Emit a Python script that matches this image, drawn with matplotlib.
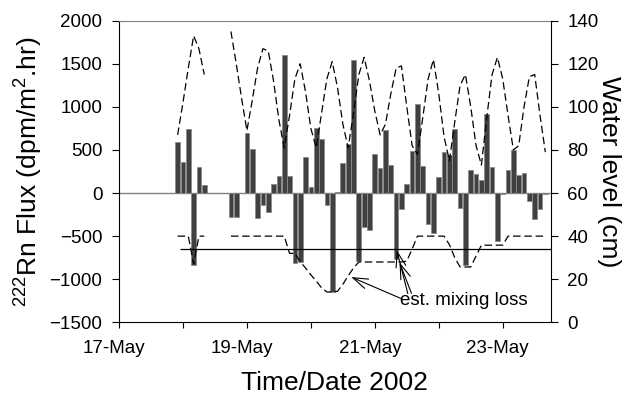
import matplotlib
matplotlib.use("Agg")
import matplotlib.pyplot as plt
import numpy as np
from matplotlib.transforms import ScaledTranslation

plt.rcParams['font.family'] = ['Liberation Sans', 'DejaVu Sans']
plt.rcParams['mathtext.fontset'] = 'custom'
plt.rcParams['mathtext.rm'] = 'Liberation Sans'
plt.rcParams['mathtext.it'] = 'Liberation Sans:italic'
plt.rcParams['mathtext.bf'] = 'Liberation Sans:bold'

# ---------------- data ----------------
# sampling times, hours after 17-May 00:00 (None = no sample)
hours = [22, 24, 26, 28, 30, 32, 34, 36, 38, 40,
         42, 44, 46, 48, 50, 52, 54, 56, 58, 60,
         62, 64, 66, 68, 70, 72, 74, 76, 78, 80,
         82, 84, 86, 88, 90, 92, 94, 96, 98, 100,
         102, 104, 106, 108, 110, 112, 114, 116, 118, 120,
         122, 124, 126, 128, 130, 132, 134, 136, 138, 140,
         142, 144, 146, 148, 150, 152, 154, 156, 158, 160]

# 222Rn flux (dpm/m2.hr)
rn_flux = [592, 364, 747, -832, 302, 97, None, None, None, None,
           -282, -278, None, 700, 511, -290, -142, -220, 101, 201,
           1598, 197, -812, -800, 422, 73, 758, 623, -143, -1149,
           12, 352, 565, 1540, -789, -390, -425, 453, 290, 727,
           329, -766, -182, 108, 487, 1037, 317, -364, -464, 182,
           476, 437, 747, -174, -839, 271, 224, 155, 921, 302,
           -561, -15, 263, 495, 205, 232, -97, -298, -190, -12]

# water level (cm)
water_level = [87, 102, 118, 133, 127, 115, None, None, None, None,
               135, 120, 104, 89, 103, 118, 127, 126, 112, 94,
               81, 96, 113, 120, 107, 90, 81, 97, 113, 121,
               109, 92, 81, 97, 115, 123, 112, 98, 87, 92,
               106, 118, 119, 100, 82, 78, 95, 113, 122, 106,
               86, 75, 93, 110, 115, 100, 82, 73, 95, 115,
               123, 113, 96, 80, 82, 100, 114, 115, 96, 79]

# estimated mixing loss (dpm/m2.hr)
mixing_loss = [-500, -500, -500, -820, -500, -500, None, None, None, None,
               -500, -500, -500, -500, -500, -500, -500, -500, -500, -500,
               -500, -700, -700, -795, -870, -950, -1020, -1100, -1148, -1148,
               -1140, -1060, -960, -870, -800, -800, -800, -800, -800, -800,
               -800, -800, -800, -790, -650, -500, -500, -500, -500, -500,
               -500, -600, -750, -858, -858, -858, -730, -605, -605, -605,
               -605, -605, -500, -500, -500, -500, -500, -500, -500, -500]

loss_threshold = -650          # solid reference line
loss_threshold_start = 23      # hours

date_labels = ['17-May', '', '19-May', '', '21-May', '', '23-May']
x_max_hours = 162

# --------------- conversion ---------------
def arr(v):
    return np.array([np.nan if x is None else x for x in v], dtype=float)

days = np.array(hours) / 24.0
flux = arr(rn_flux)
wl = arr(water_level)
mix = arr(mixing_loss)
ok = ~np.isnan(flux)

# --------------- figure ---------------
fig = plt.figure(figsize=(6.29, 3.96), dpi=100)
ax = fig.add_axes([0.1892, 0.1861, 0.8755 - 0.1892, 0.9477 - 0.1861])
ax2 = ax.twinx()

ax.bar(days[ok], flux[ok], width=0.0733, color='#404040',
       edgecolor='#8a8a8a', linewidth=0.6, zorder=2)
ax.axhline(0, color='#808080', lw=1.0, zorder=1)
ax.hlines(loss_threshold, loss_threshold_start / 24.0, x_max_hours / 24.0,
          color='black', lw=0.9, zorder=3)
ax.plot(days, mix, color='black', lw=0.9, dashes=(6, 3), zorder=4)
ax2.plot(days, wl, color='black', lw=0.9, dashes=(6, 3), zorder=4)

ax.set_xlim(0, x_max_hours / 24.0)
ax.set_ylim(-1500, 2000)
ax.set_yticks(np.arange(-1500, 2001, 500))
ax2.set_ylim(0, 140)
ax2.set_yticks(np.arange(0, 141, 20))

ax.set_xticks(np.arange(len(date_labels)))
ax.set_xticklabels(date_labels)

ax.spines['top'].set_color('#808080')
ax.spines['right'].set_visible(False)
ax2.spines['top'].set_visible(False)
ax2.spines['left'].set_visible(False)
ax2.spines['bottom'].set_visible(False)

ax.tick_params(axis='x', direction='out', length=4, width=0.8, labelsize=13.5, pad=9)
ax.tick_params(axis='y', direction='out', length=5, width=0.8, labelsize=13.5, pad=7)
ax2.tick_params(axis='y', direction='out', length=5, width=0.8, labelsize=13.5, pad=7)

offset = ScaledTranslation(-5 / 100.0, 0, fig.dpi_scale_trans)
for lab in ax.get_xticklabels():
    lab.set_transform(lab.get_transform() + offset)

ax.set_xlabel('Time/Date 2002', fontsize=19)
ax.xaxis.set_label_coords(0.5, -0.16)
ax.set_ylabel(r'$^{222}$Rn Flux (dpm/m$^{2}$.hr)', fontsize=19)
ax.yaxis.set_label_coords(-0.172, 0.5)
ax2.set_ylabel('Water level (cm)', fontsize=19, rotation=270, va='bottom')
ax2.yaxis.set_label_coords(1.107, 0.5)

# annotation
ax.text(4.386, -1303, 'est. mixing loss', fontsize=13.5, va='baseline', ha='left')
arrow_kw = dict(arrowstyle='->,head_length=0.9,head_width=0.3', color='black', lw=0.8,
                shrinkA=0, shrinkB=0, mutation_scale=12)
ax.annotate('', xy=(3.631, -975), xytext=(4.413, -1225), arrowprops=arrow_kw)
ax.annotate('', xy=(4.344, -665), xytext=(4.516, -1167), arrowprops=arrow_kw)
ax.annotate('', xy=(4.386, -804), xytext=(4.573, -1164), arrowprops=arrow_kw)

fig.savefig('out.png', dpi=100)
